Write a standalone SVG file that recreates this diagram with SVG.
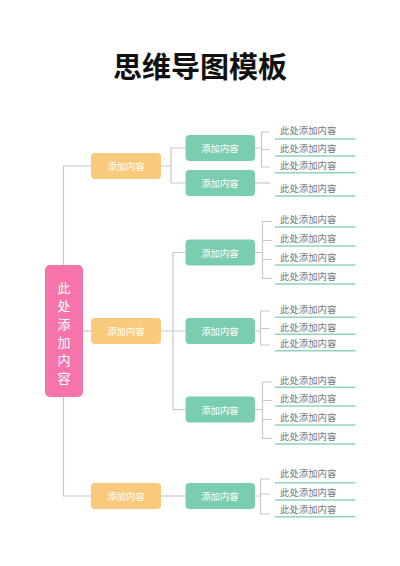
<svg xmlns="http://www.w3.org/2000/svg" width="400" height="566" viewBox="0 0 400 566">
<style>
.ln{fill:none;stroke:#c9c9c9;stroke-width:1.2}
.ul{stroke:#8fd4bc;stroke-width:1.4}
.l1{fill:#f9c97c}
.l2{fill:#7acdb1}
.nt{font-family:"Noto Sans CJK SC","Noto Sans",sans-serif;font-size:9.4px;fill:#ffffff;text-anchor:middle;dominant-baseline:central}
.lf{font-family:"Noto Sans CJK SC","Noto Sans",sans-serif;font-size:9.4px;fill:#777777;dominant-baseline:central}
</style>
<rect width="400" height="566" fill="#ffffff"/>
<text x="200" y="65" font-family="Noto Sans CJK SC,sans-serif" font-size="29" font-weight="bold" fill="#111111" text-anchor="middle" dominant-baseline="central">思维导图模板</text>
<g id="connectors">
<path class="ln" d="M91 166H63.5V496H91"/>
<path class="ln" d="M83 331H91"/>
<path class="ln" d="M161 166H171M185.5 148H171V183H185.5"/>
<path class="ln" d="M161 331H173M185.5 252.5H173V409.5H185.5M173 331H185.5"/>
<path class="ln" d="M161 496H185.5"/>
<path class="ln" d="M255 148H261.5M270 132H261.5V167H270M261.5 149.5H270"/>
<path class="ln" d="M255 183H270"/>
<path class="ln" d="M255 252.5H262.5M272 221.5H262.5V278.5H272M262.5 240.5H272M262.5 259.5H272"/>
<path class="ln" d="M255 331H260.5M270 311H260.5V345H270M260.5 328.5H270"/>
<path class="ln" d="M255 409.5H262.5M272 382H262.5V438.5H272M262.5 400.5H272M262.5 419.5H272"/>
<path class="ln" d="M255 496H260.5M270 479H260.5V514H270M260.5 494H270"/>
</g>
<g id="root">
<rect x="45" y="265" width="38" height="132" rx="5" fill="#f774aa"/>
<g font-family="Noto Sans CJK SC,sans-serif" font-size="13" fill="#ffffff" text-anchor="middle" dominant-baseline="central">
<text x="64" y="287">此</text><text x="64" y="305">处</text><text x="64" y="323">添</text><text x="64" y="341">加</text><text x="64" y="359">内</text><text x="64" y="377">容</text>
</g>
</g>
<g id="b1"><rect class="l1" x="91" y="153" width="70" height="26" rx="4"/><text class="nt" x="126" y="166">添加内容</text></g>
<g id="b2"><rect class="l1" x="91" y="318" width="70" height="26" rx="4"/><text class="nt" x="126" y="331">添加内容</text></g>
<g id="b3"><rect class="l1" x="91" y="483" width="70" height="26" rx="4"/><text class="nt" x="126" y="496">添加内容</text></g>
<g id="c1"><rect class="l2" x="185.5" y="135" width="69.5" height="26" rx="4"/><text class="nt" x="220" y="148">添加内容</text></g>
<g id="c2"><rect class="l2" x="185.5" y="170" width="69.5" height="26" rx="4"/><text class="nt" x="220" y="183">添加内容</text></g>
<g id="c3"><rect class="l2" x="185.5" y="239.5" width="69.5" height="26" rx="4"/><text class="nt" x="220" y="252.5">添加内容</text></g>
<g id="c4"><rect class="l2" x="185.5" y="318" width="69.5" height="26" rx="4"/><text class="nt" x="220" y="331">添加内容</text></g>
<g id="c5"><rect class="l2" x="185.5" y="396.5" width="69.5" height="26" rx="4"/><text class="nt" x="220" y="409.5">添加内容</text></g>
<g id="c6"><rect class="l2" x="185.5" y="483" width="69.5" height="26" rx="4"/><text class="nt" x="220" y="496">添加内容</text></g>
<g id="leaves">
<g id="lg1">
<text class="lf" x="280" y="130">此处添加内容</text><line class="ul" x1="275" y1="139" x2="355.5" y2="139"/>
<text class="lf" x="280" y="147.7">此处添加内容</text><line class="ul" x1="275" y1="156" x2="355.5" y2="156"/>
<text class="lf" x="280" y="165">此处添加内容</text><line class="ul" x1="275" y1="172.7" x2="355.5" y2="172.7"/>
</g>
<g id="lg2">
<text class="lf" x="280" y="187.7">此处添加内容</text><line class="ul" x1="275" y1="196" x2="355.5" y2="196"/>
</g>
<g id="lg3">
<text class="lf" x="280" y="219">此处添加内容</text><line class="ul" x1="275" y1="227" x2="355.5" y2="227"/>
<text class="lf" x="280" y="238.3">此处添加内容</text><line class="ul" x1="275" y1="246" x2="355.5" y2="246"/>
<text class="lf" x="280" y="257.3">此处添加内容</text><line class="ul" x1="275" y1="265" x2="355.5" y2="265"/>
<text class="lf" x="280" y="276">此处添加内容</text><line class="ul" x1="275" y1="284" x2="355.5" y2="284"/>
</g>
<g id="lg4">
<text class="lf" x="280" y="309">此处添加内容</text><line class="ul" x1="275" y1="317.3" x2="355.5" y2="317.3"/>
<text class="lf" x="280" y="326.7">此处添加内容</text><line class="ul" x1="275" y1="334.3" x2="355.5" y2="334.3"/>
<text class="lf" x="280" y="342.7">此处添加内容</text><line class="ul" x1="275" y1="350.7" x2="355.5" y2="350.7"/>
</g>
<g id="lg5">
<text class="lf" x="280" y="380">此处添加内容</text><line class="ul" x1="275" y1="387.3" x2="355.5" y2="387.3"/>
<text class="lf" x="280" y="398.3">此处添加内容</text><line class="ul" x1="275" y1="406" x2="355.5" y2="406"/>
<text class="lf" x="280" y="417.3">此处添加内容</text><line class="ul" x1="275" y1="425" x2="355.5" y2="425"/>
<text class="lf" x="280" y="436.3">此处添加内容</text><line class="ul" x1="275" y1="444" x2="355.5" y2="444"/>
</g>
<g id="lg6">
<text class="lf" x="280" y="473.3">此处添加内容</text><line class="ul" x1="275" y1="482.7" x2="355.5" y2="482.7"/>
<text class="lf" x="280" y="491.7">此处添加内容</text><line class="ul" x1="275" y1="500" x2="355.5" y2="500"/>
<text class="lf" x="280" y="509">此处添加内容</text><line class="ul" x1="275" y1="516.7" x2="355.5" y2="516.7"/>
</g>
</g>
</svg>
